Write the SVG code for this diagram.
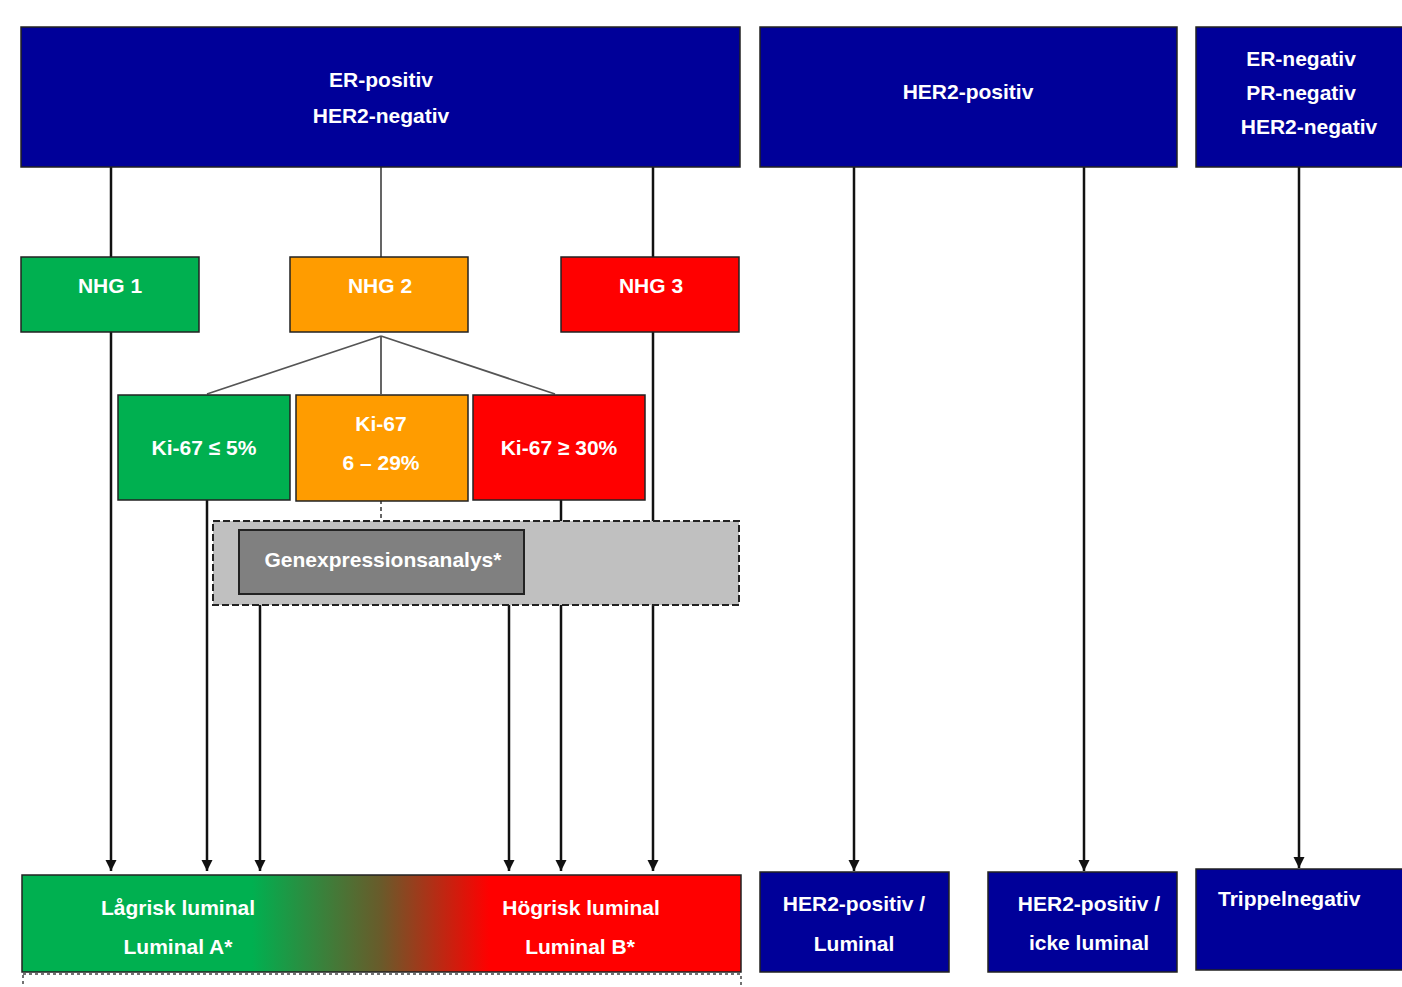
<svg xmlns="http://www.w3.org/2000/svg" width="1402" height="987" viewBox="0 0 1402 987">
<defs>
<style>
.t{font-family:"Liberation Sans",Arial,sans-serif;font-weight:bold;fill:#fff;font-size:21px;text-anchor:middle}
.blue{fill:#000099;stroke:#222;stroke-width:1.5}
.green{fill:#00b050;stroke:#222;stroke-width:1.5}
.orange{fill:#ff9c00;stroke:#222;stroke-width:1.5}
.red{fill:#ff0000;stroke:#222;stroke-width:1.5}
.ln{stroke:#111;stroke-width:2.5;fill:none}
.lg{stroke:#555;stroke-width:1.8;fill:none}
</style>
<marker id="ah" viewBox="0 0 10 10" refX="10" refY="5" markerWidth="4.5" markerHeight="4.5" orient="auto" markerUnits="strokeWidth">
<path d="M0,0 L10,5 L0,10 z" fill="#111"/>
</marker>
<linearGradient id="grad" x1="22" y1="0" x2="741" y2="0" gradientUnits="userSpaceOnUse">
<stop offset="0.32" stop-color="#00b050"/>
<stop offset="0.5" stop-color="#6a5a2a"/>
<stop offset="0.65" stop-color="#ff0000"/>
</linearGradient>
</defs>
<rect width="1402" height="987" fill="#fff"/>

<g id="connectors">
<line class="ln" x1="111" y1="167" x2="111" y2="257"/>
<line class="lg" x1="381" y1="167" x2="381" y2="257"/>
<line class="ln" x1="653" y1="167" x2="653" y2="257"/>
<line class="ln" x1="111" y1="332" x2="111" y2="871" marker-end="url(#ah)"/>
<line class="ln" x1="653" y1="332" x2="653" y2="871" marker-end="url(#ah)"/>
<line class="lg" x1="381" y1="336" x2="207" y2="394"/>
<line class="lg" x1="381" y1="336" x2="381" y2="394"/>
<line class="lg" x1="381" y1="336" x2="555" y2="394"/>
<line class="ln" x1="207" y1="500" x2="207" y2="871" marker-end="url(#ah)"/>
<line class="lg" x1="381" y1="500" x2="381" y2="521" stroke-dasharray="4 3"/>
<line class="ln" x1="561" y1="500" x2="561" y2="521"/>
<line class="ln" x1="561" y1="605" x2="561" y2="871" marker-end="url(#ah)"/>
<line class="ln" x1="260" y1="594" x2="260" y2="871" marker-end="url(#ah)"/>
<line class="ln" x1="509" y1="594" x2="509" y2="871" marker-end="url(#ah)"/>
<line class="ln" x1="854" y1="167" x2="854" y2="871" marker-end="url(#ah)"/>
<line class="ln" x1="1084" y1="167" x2="1084" y2="871" marker-end="url(#ah)"/>
<line class="ln" x1="1299" y1="167" x2="1299" y2="868" marker-end="url(#ah)"/>
</g>

<g id="er-pos">
<rect class="blue" x="21" y="27" width="719" height="140"/>
<text class="t" x="381" y="87">ER-positiv</text>
<text class="t" x="381" y="123">HER2-negativ</text>
</g>
<g id="her2-pos">
<rect class="blue" x="760" y="27" width="417" height="140"/>
<text class="t" x="968" y="99">HER2-positiv</text>
</g>
<g id="triple-neg-top">
<rect class="blue" x="1196" y="27" width="215" height="140"/>
<text class="t" x="1301" y="66">ER-negativ</text>
<text class="t" x="1301" y="100">PR-negativ</text>
<text class="t" x="1309" y="134">HER2-negativ</text>
</g>

<g id="nhg1">
<rect class="green" x="21" y="257" width="178" height="75"/>
<text class="t" x="110" y="293">NHG 1</text>
</g>
<g id="nhg2">
<rect class="orange" x="290" y="257" width="178" height="75"/>
<text class="t" x="380" y="293">NHG 2</text>
</g>
<g id="nhg3">
<rect class="red" x="561" y="257" width="178" height="75"/>
<text class="t" x="651" y="293">NHG 3</text>
</g>

<g id="ki-low">
<rect class="green" x="118" y="395" width="172" height="105"/>
<text class="t" x="204" y="455">Ki-67 ≤ 5%</text>
</g>
<g id="ki-mid">
<rect class="orange" x="296" y="395" width="172" height="106"/>
<text class="t" x="381" y="431">Ki-67</text>
<text class="t" x="381" y="470">6 – 29%</text>
</g>
<g id="ki-high">
<rect class="red" x="473" y="395" width="172" height="105"/>
<text class="t" x="559" y="455">Ki-67 ≥ 30%</text>
</g>

<g id="gene-area">
<rect x="213" y="521" width="526" height="84" fill="#c0c0c0" stroke="#222" stroke-width="2" stroke-dasharray="7 3"/>
</g>
<g id="gene">
<rect x="239" y="530" width="285" height="64" fill="#808080" stroke="#222" stroke-width="2"/>
<text class="t" x="383" y="567">Genexpressionsanalys*</text>
</g>

<g id="below-box">
<rect x="23" y="974" width="718" height="40" fill="none" stroke="#444" stroke-width="1.5" stroke-dasharray="3 3"/>
</g>
<g id="luminal">
<rect x="22" y="875" width="719" height="97" fill="url(#grad)" stroke="#222" stroke-width="1.5"/>
<text class="t" x="178" y="915">Lågrisk luminal</text>
<text class="t" x="178" y="954">Luminal A*</text>
<text class="t" x="581" y="915">Högrisk luminal</text>
<text class="t" x="580" y="954">Luminal B*</text>
</g>
<g id="her2-lum">
<rect class="blue" x="760" y="872" width="189" height="100"/>
<text class="t" x="854" y="911">HER2-positiv /</text>
<text class="t" x="854" y="951">Luminal</text>
</g>
<g id="her2-nonlum">
<rect class="blue" x="988" y="872" width="189" height="100"/>
<text class="t" x="1089" y="911">HER2-positiv /</text>
<text class="t" x="1089" y="950">icke luminal</text>
</g>
<g id="triple-neg">
<rect class="blue" x="1196" y="869" width="215" height="101"/>
<text class="t" x="1218" y="906" style="text-anchor:start">Trippelnegativ</text>
</g>
</svg>
